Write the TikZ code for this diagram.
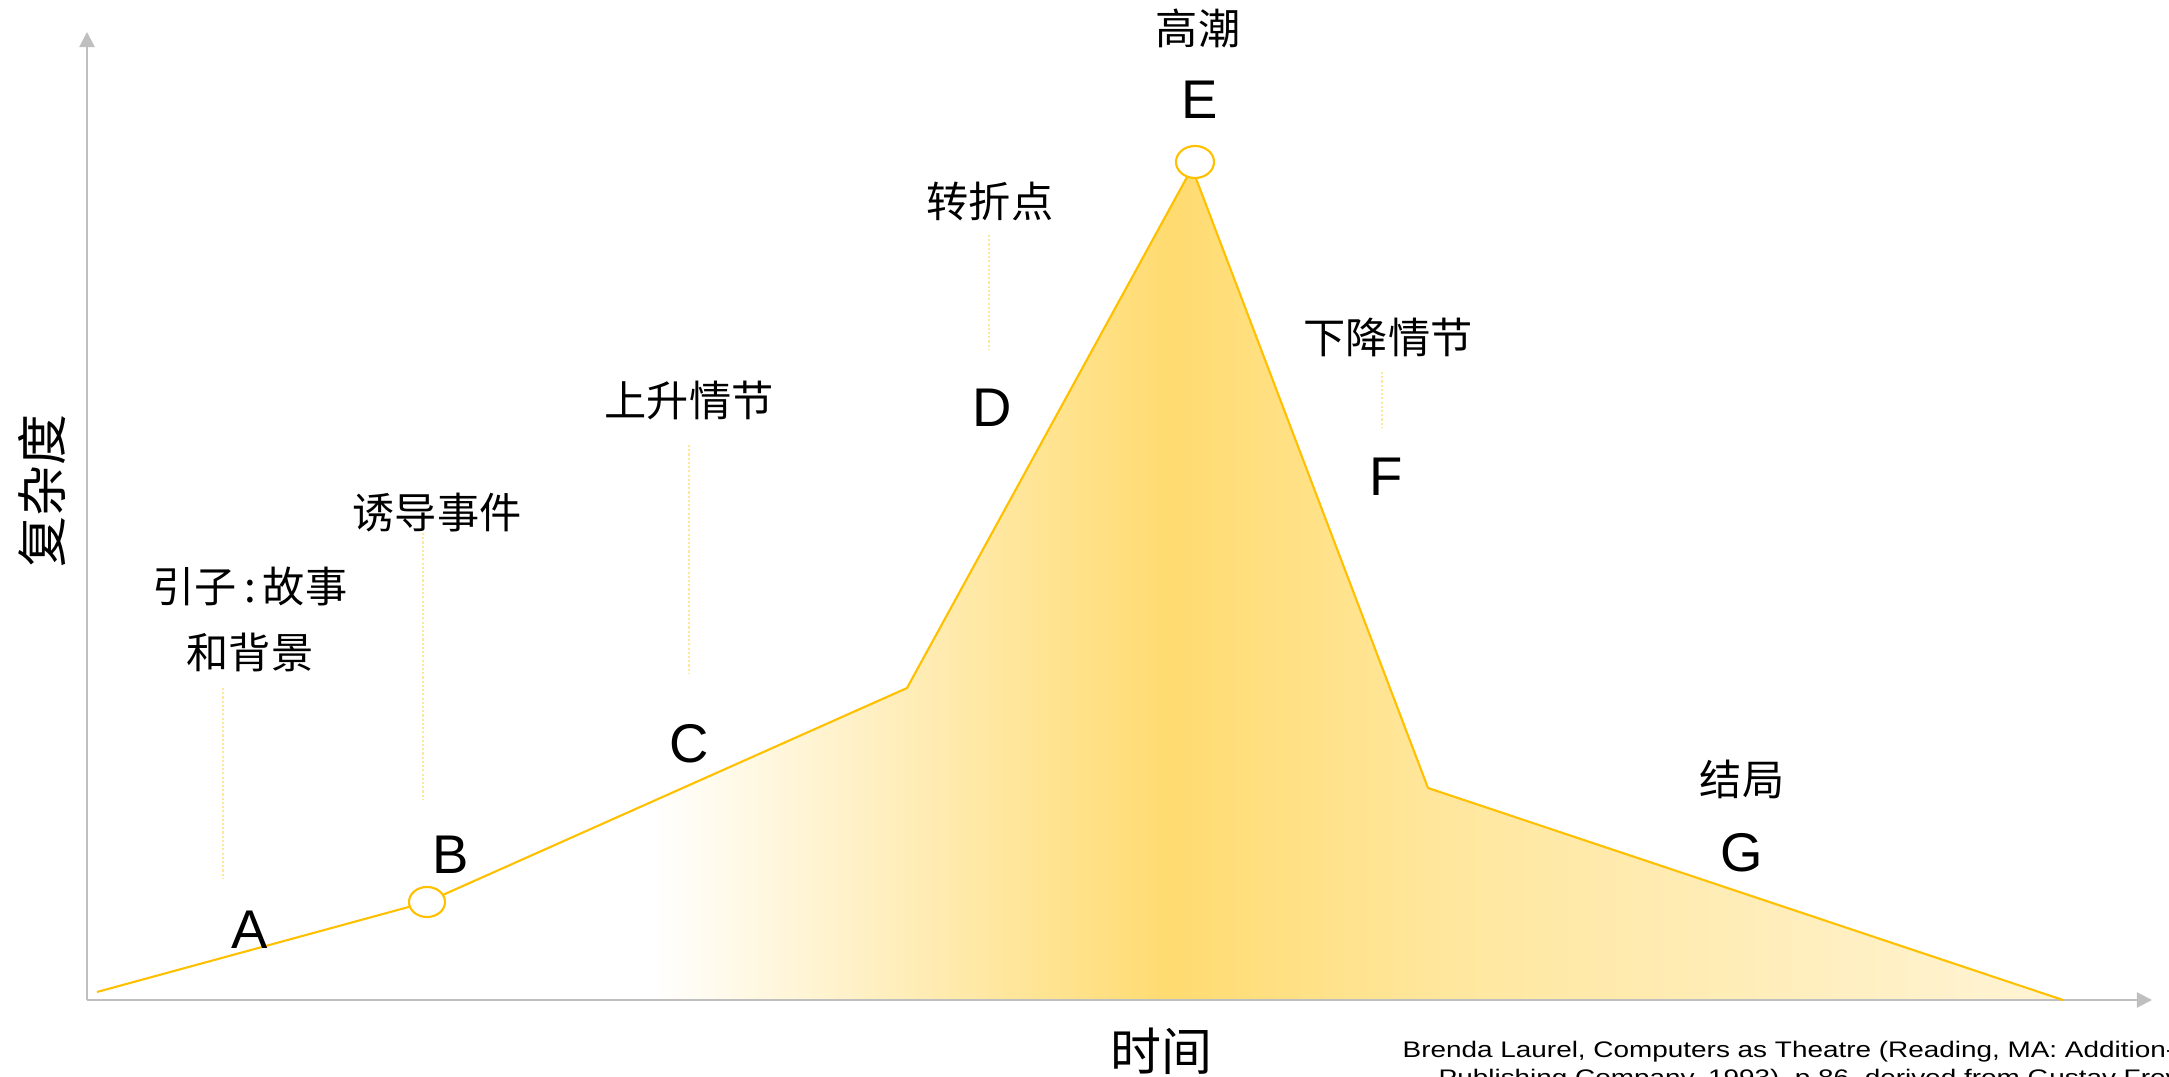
\documentclass[tikz,border=0pt]{standalone}
\usepackage{fontspec}
\setmainfont{Liberation Sans}
\newfontfamily\cjk{Noto Sans CJK SC}
\usetikzlibrary{arrows.meta,shapes.geometric}
\definecolor{gold}{HTML}{FFC000}
\definecolor{peak}{HTML}{FFDB70}
\definecolor{midc}{HTML}{FFE79E}
\definecolor{pale}{HTML}{FFF4D6}
\definecolor{axisgray}{HTML}{BFBFBF}
\definecolor{connc}{HTML}{FFE699}
\begin{document}
\begin{tikzpicture}[x=0.01cm,y=-0.01cm,
  lbl/.style={font=\cjk\fontsize{12pt}{14pt}\selectfont, inner sep=0pt},
  ltr/.style={font=\fontsize{15.5pt}{18pt}\selectfont, inner sep=0pt},
  axlbl/.style={font=\cjk\fontsize{14.5pt}{17pt}\selectfont, inner sep=0pt},
  axisline/.style={draw=axisgray, line width=0.6pt, -{Triangle[length=4.3pt,width=4.3pt]}},
  plotline/.style={draw=gold, line width=0.6pt, line join=round},
  conn/.style={draw=connc, line width=0.4pt, dash pattern=on 0.6pt off 0.6pt},
  marker/.style={ellipse, draw=gold, fill=white, line width=0.6pt, inner sep=0pt},
  citestyle/.style={font=\fontsize{6.4pt}{8pt}\selectfont, inner sep=0pt, anchor=base west}]
\useasboundingbox (0,0) rectangle (2169,1077);
% axes
\coordinate (O) at (87,1000);
\coordinate (Ytop) at (87,32);
\coordinate (Xend) at (2152,1000);
% curve points
\coordinate (P0) at (97,992);
\coordinate (PB) at (427,902);
\coordinate (PC) at (907,688);
\coordinate (PE) at (1192,168);
\coordinate (PF) at (1428,788);
\coordinate (PG) at (2063,1000);
% fill
\begin{scope}
  \clip (P0) -- (PB) -- (PC) -- (PE) -- (PF) -- (PG) -- (O) -- cycle;
  \shade[left color=white, right color=peak] (650,100) rectangle (1170,1001);
  \shade[left color=peak, right color=midc] (1169.5,100) rectangle (1450,1001);
  \shade[left color=midc, right color=pale] (1449.5,100) rectangle (2070,1001);
\end{scope}
\draw[axisline] (O) -- (Ytop);
\draw[axisline] (O) -- (Xend);
\draw[plotline] (P0) -- (PB) -- (PC) -- (PE) -- (PF) -- (PG);
\node[marker, minimum width=0.36cm, minimum height=0.3cm] (mB) at (427,902) {};
\node[marker, minimum width=0.38cm, minimum height=0.32cm] (mE) at (1195,162) {};
% labels
\node[lbl] (tE) at (1198,28) {高潮};
\node[ltr] (E) at (1200,100) {E};
\node[lbl] (tD) at (990,202) {转折点};
\node[ltr] (D) at (992,408) {D};
\node[lbl] (tF) at (1388,337) {下降情节};
\node[ltr] (F) at (1386,477) {F};
\node[lbl] (tC) at (689,401) {上升情节};
\node[ltr] (C) at (689,744) {C};
\node[lbl] (tB) at (437,513) {诱导事件};
\node[ltr] (B) at (451,855) {B};
\node[lbl] (tA1) at (250,587) {引子\,:\,故事};
\node[lbl] (tA2) at (250,652) {和背景};
\node[ltr] (A) at (250,930) {A};
\node[lbl] (tG) at (1742,779) {结局};
\node[ltr] (G) at (1742,853) {G};
\node[axlbl, rotate=90] (ylab) at (42,491) {复杂度};
\node[axlbl] (xlab) at (1161,1051) {时间};
% connectors
\coordinate (cA1) at (223,688); \coordinate (cA2) at (223,878);
\coordinate (cB1) at (423,533); \coordinate (cB2) at (423,800);
\coordinate (cC1) at (689,445); \coordinate (cC2) at (689,674);
\coordinate (cD1) at (989,235); \coordinate (cD2) at (989,350);
\coordinate (cF1) at (1382,372); \coordinate (cF2) at (1382,428);
\draw[conn] (cA1) -- (cA2);
\draw[conn] (cB1) -- (cB2);
\draw[conn] (cC1) -- (cC2);
\draw[conn] (cD1) -- (cD2);
\draw[conn] (cF1) -- (cF2);
% citation
\node[citestyle] (cite1) at (1402,1058) {\scalebox{1.24}[1]{Brenda Laurel, Computers as Theatre (Reading, MA: Addition-Wesley}};
\node[citestyle] (cite2) at (1438,1086) {\scalebox{1.24}[1]{Publishing Company, 1993), p.86, derived from Gustav Freytag}};
\end{tikzpicture}
\end{document}
